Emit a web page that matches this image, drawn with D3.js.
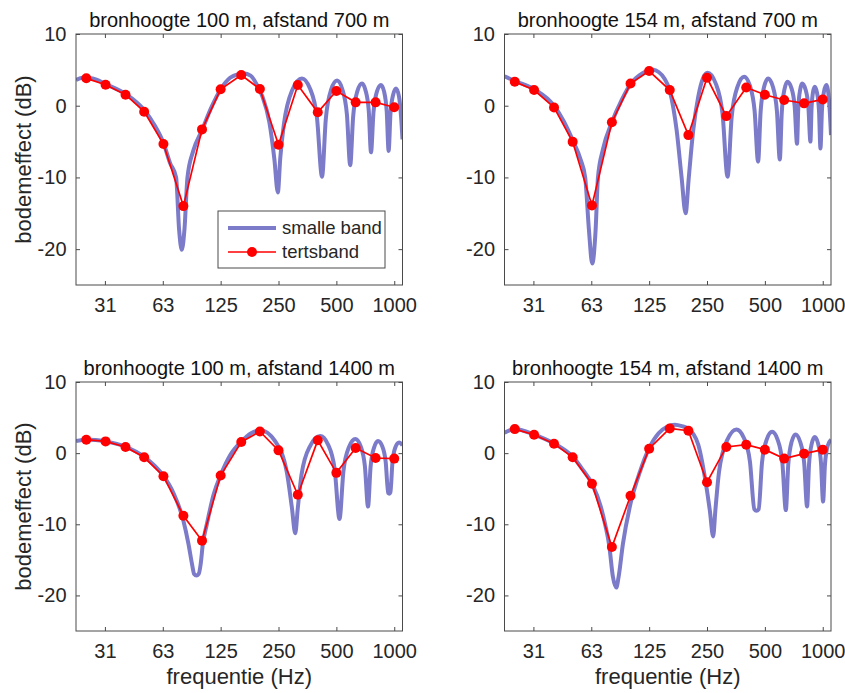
<!DOCTYPE html>
<html><head><meta charset="utf-8">
<script src="https://cdn.jsdelivr.net/npm/d3@7"></script>
<style>
body{margin:0;background:#fff}
svg{display:block}
text{font-family:"Liberation Sans",Arial,Helvetica,sans-serif}
</style>
</head><body>
<svg id="chart" width="845" height="693"></svg>
<script>
// ---------------- DATA ----------------
const titles = [
  "bronhoogte 100 m, afstand 700 m",
  "bronhoogte 154 m, afstand 700 m",
  "bronhoogte 100 m, afstand 1400 m",
  "bronhoogte 154 m, afstand 1400 m"
];
const xDomain = [22.1, 1104];
const yDomain = [-25, 10];
const xTicks = [31.25, 62.5, 125, 250, 500, 1000];
const xTickLabels = ["31", "63", "125", "250", "500", "1000"];
const yTicks = [-20, -10, 0, 10];
const yTickLabels = ["-20", "-10", "0", "10"];
const legendLabels = ["smalle band", "tertsband"];
const yLabel = "bodemeffect (dB)";
const xLabel = "frequentie (Hz)";

// third-octave band centre frequencies (Hz)
const tertsFreq = [25, 31.5, 40, 50, 63, 80, 100, 125, 160, 200, 250, 315, 400, 500, 630, 800, 1000];

// tertsband values (dB)
const terts_h100_a700  = [3.82, 2.93, 1.54, -0.83, -5.34, -14.0, -3.3, 2.29, 4.28, 2.33, -5.44, 2.89, -0.92, 2.05, 0.47, 0.47, -0.22];
const terts_h154_a700  = [3.34, 2.18, -0.24, -5.04, -13.9, -2.3, 3.1, 4.83, 2.18, -4.1, 3.9, -1.45, 2.55, 1.53, 0.8, 0.33, 0.88];
const terts_h100_a1400 = [1.89, 1.65, 0.87, -0.58, -3.24, -8.8, -12.3, -3.15, 1.56, 3.05, 0.39, -5.85, 1.8, -2.77, 0.72, -0.68, -0.77];
const terts_h154_a1400 = [3.38, 2.59, 1.33, -0.58, -4.3, -13.2, -6.0, 0.63, 3.47, 3.15, -4.08, 0.87, 1.19, 0.49, -0.77, -0.07, 0.49];

// smalle band (narrow band) curves: [frequency Hz, dB]
const smal_h100_a700 = [[22.1,3.6],[24,3.9],[27,3.8],[31.5,3.0],[40,1.65],[50,-0.6],[56,-2.5],[63,-5.2],[68.2,-8.0],[73.3,-10],[76,-17.3],[78.5,-20.1],[81,-17.3],[84,-10],[90,-6.3],[100,-3.4],[112,-0.2],[125,2.3],[140,3.9],[155,4.4],[165,4.5],[179,4.2],[194,2.8],[206,1.3],[224,-2.3],[238,-7.5],[248,-12.1],[255.3,-7.3],[266.6,-2.6],[294.9,2.2],[331,3.8],[364.4,2.4],[396.4,-1.7],[421,-9.9],[440.4,-1.9],[469,2.2],[504,3.5],[536.9,2.3],[567.2,-1.2],[590,-8.3],[611.3,-1.5],[642.5,2.0],[680,3.1],[709.8,2.1],[737,-0.7],[757,-6.5],[780,-0.9],[813.2,2.0],[853,2.9],[884.9,2.0],[913.8,-0.8],[935,-6.3],[956,-1.1],[986.3,1.5],[1022,2.4],[1060,1.2],[1085,-1.5],[1104,-4.7]];
const smal_h154_a700 = [[22.1,4.1],[25,3.45],[31.5,2.3],[40,0],[45,-2.2],[50,-4.8],[55,-7.5],[58.1,-10],[60.8,-17.4],[63.2,-22],[65.8,-17.4],[67.7,-10],[72,-6],[80,-2.3],[90,0.8],[100,3.0],[115,4.5],[131,5.0],[140,4.7],[150,3.8],[160,2.1],[173.7,-3.4],[184.4,-10],[193.4,-15],[201,-10],[212,-3.4],[225,1.25],[238,3.8],[251.7,4.6],[277,3.15],[301.2,-1.2],[319.8,-9.9],[336.1,-1.5],[360.3,2.65],[390,4.04],[417,2.86],[442.1,-0.7],[461,-7.8],[475.1,-0.84],[495.5,2.64],[520,3.8],[549.9,2.67],[577.5,-0.72],[598,-7.5],[612,-1.0],[632.2,2.27],[656,3.35],[686.5,2.5],[714.4,-0.1],[735,-5.3],[746.2,-0.26],[763.9,2.3],[781,3.1],[812.9,2.3],[841.8,-0.14],[863,-5.0],[874.3,-0.41],[890,1.9],[909,2.65],[934,1.8],[956.6,-0.79],[973,-5.96],[990.5,-0.64],[1015.6,2.0],[1045,2.9],[1080,0.5],[1104,-4.1]];
const smal_h100_a1400 = [[22.1,1.7],[25,1.9],[28,1.85],[31.5,1.65],[40,0.9],[50,-0.5],[63,-3.2],[71,-5.6],[80,-9.5],[85,-12.75],[89,-15.8],[91,-17],[93.5,-17.2],[96,-17.0],[98.5,-15.5],[101,-12.75],[105.9,-10],[115,-5.8],[125,-3.1],[140,-0.3],[160,1.6],[180,2.8],[203,3.2],[239,1.75],[275.8,-2.6],[293.3,-7.6],[305.5,-11.26],[314.8,-7.8],[329.2,-3.06],[365.5,1.03],[412,2.4],[451.8,1.24],[489.9,-2.26],[519,-9.25],[544.2,-2.5],[581.6,0.88],[627.5,2.0],[666.9,1.05],[703.4,-1.8],[730.6,-7.5],[752.9,-1.98],[785.2,0.78],[823.7,1.7],[865,1.0],[902.5,-1.22],[930,-5.6],[943,-5.7],[955,-5.5],[978.9,-1.3],[1013,0.8],[1060,1.5],[1104,1.1]];
const smal_h154_a1400 = [[22.1,2.87],[25,3.4],[31.5,2.6],[40,1.35],[50,-0.5],[56,-2.2],[63,-4.3],[70,-7.5],[73.9,-10.1],[77.5,-13],[81,-17.4],[84.3,-18.9],[86.7,-17.4],[91.3,-12.75],[100,-7.1],[112,-2.6],[125,0.7],[140,2.8],[155,3.7],[170,4.0],[185,3.8],[200,3.4],[225,1.2],[243.7,-3.4],[258.7,-8.1],[269,-11.7],[276.6,-7.9],[288.5,-2.7],[318.2,1.83],[356,3.33],[387.8,2.2],[418,-1.16],[441,-7.9],[452,-8.1],[464,-7.9],[483,-1.36],[511,1.9],[545,3.0],[582.2,1.9],[616.7,-1.4],[642.7,-8.0],[661.6,-1.62],[689,1.6],[721.8,2.63],[762.9,1.6],[800.8,-1.42],[829,-7.5],[848.3,-1.64],[876,1.3],[909,2.26],[945.8,1.35],[979.4,-1.36],[1004,-6.8],[1027,-1.6],[1060,1.0],[1104,1.9]];

// ---------------- DRAWING ----------------
const svg = d3.select("#chart");
const BLUE = "#7b7bc9", RED = "#ff0000", AXC = "#4a4a4a", TXT = "#262626";
const W = 326.5;
const panels = [
  {title: titles[0], terts: terts_h100_a700,  smal: smal_h100_a700,  x0: 76,    y0: 34,  h: 251, yl: true,  xl: false, legend: true},
  {title: titles[1], terts: terts_h154_a700,  smal: smal_h154_a700,  x0: 504.5, y0: 34,  h: 251, yl: false, xl: false, legend: false},
  {title: titles[2], terts: terts_h100_a1400, smal: smal_h100_a1400, x0: 76,    y0: 382, h: 249, yl: true,  xl: true,  legend: false},
  {title: titles[3], terts: terts_h154_a1400, smal: smal_h154_a1400, x0: 504.5, y0: 382, h: 249, yl: false, xl: true,  legend: false}
];

panels.forEach((p, i) => {
  const x = d3.scaleLog().domain(xDomain).range([p.x0, p.x0 + W]);
  const y = d3.scaleLinear().domain(yDomain).range([p.y0 + p.h, p.y0]);
  const g = svg.append("g");

  g.append("clipPath").attr("id", "clip" + i)
    .append("rect").attr("x", p.x0).attr("y", p.y0).attr("width", W).attr("height", p.h);

  // axes (ticks inside, box on)
  const styleAxis = sel => {
    sel.select(".domain").remove();
    sel.selectAll(".tick line").attr("stroke", AXC).attr("stroke-width", 1);
    sel.selectAll(".tick text").attr("fill", TXT).style("font-size", "20px");
  };
  g.append("g").attr("transform", `translate(0,${p.y0 + p.h})`)
    .call(d3.axisBottom(x).tickValues(xTicks).tickFormat((d, k) => xTickLabels[k]).tickSizeInner(-4).tickSizeOuter(0).tickPadding(13))
    .call(styleAxis);
  g.append("g").attr("transform", `translate(0,${p.y0})`)
    .call(d3.axisTop(x).tickValues(xTicks).tickFormat("").tickSizeInner(-4).tickSizeOuter(0))
    .call(styleAxis);
  g.append("g").attr("transform", `translate(${p.x0},0)`)
    .call(d3.axisLeft(y).tickValues(yTicks).tickFormat((d, k) => yTickLabels[k]).tickSizeInner(-4).tickSizeOuter(0).tickPadding(9.5))
    .call(styleAxis);
  g.append("g").attr("transform", `translate(${p.x0 + W},0)`)
    .call(d3.axisRight(y).tickValues(yTicks).tickFormat("").tickSizeInner(-4).tickSizeOuter(0))
    .call(styleAxis);

  // data
  const plot = g.append("g").attr("clip-path", `url(#clip${i})`);
  plot.append("path").datum(p.smal)
    .attr("fill", "none").attr("stroke", BLUE).attr("stroke-width", 4)
    .attr("stroke-linejoin", "round")
    .attr("d", d3.line().x(d => x(d[0])).y(d => y(d[1])).curve(d3.curveMonotoneX));
  const tp = tertsFreq.map((f, k) => [f, p.terts[k]]);
  plot.append("path").datum(tp)
    .attr("fill", "none").attr("stroke", RED).attr("stroke-width", 1.7)
    .attr("d", d3.line().x(d => x(d[0])).y(d => y(d[1])));
  plot.selectAll("circle").data(tp).enter().append("circle")
    .attr("cx", d => x(d[0])).attr("cy", d => y(d[1])).attr("r", 5).attr("fill", RED);

  // frame
  g.append("rect").attr("x", p.x0).attr("y", p.y0).attr("width", W).attr("height", p.h)
    .attr("fill", "none").attr("stroke", AXC).attr("stroke-width", 1);

  // title
  g.append("text").attr("x", p.x0 + W / 2).attr("y", p.y0 - 7.5)
    .attr("text-anchor", "middle").attr("fill", "#111").style("font-size", "20px").text(p.title);

  if (p.yl) {
    g.append("text").attr("transform", `translate(${p.x0 - 53},${p.y0 + p.h / 2}) rotate(-90)`)
      .attr("text-anchor", "middle").attr("dy", "0.35em").attr("fill", TXT).style("font-size", "22px").text(yLabel);
  }
  if (p.xl) {
    g.append("text").attr("x", p.x0 + W / 2).attr("y", p.y0 + p.h + 53)
      .attr("text-anchor", "middle").attr("fill", TXT).style("font-size", "22px").text(xLabel);
  }

  if (p.legend) {
    const lx = p.x0 + 142, ly = p.y0 + 177;
    const L = g.append("g");
    L.append("rect").attr("x", lx).attr("y", ly).attr("width", 167).attr("height", 57)
      .attr("fill", "#fff").attr("stroke", AXC).attr("stroke-width", 1);
    L.append("line").attr("x1", lx + 10).attr("x2", lx + 58).attr("y1", ly + 17).attr("y2", ly + 17)
      .attr("stroke", BLUE).attr("stroke-width", 4);
    L.append("line").attr("x1", lx + 10).attr("x2", lx + 58).attr("y1", ly + 41).attr("y2", ly + 41)
      .attr("stroke", RED).attr("stroke-width", 1.7);
    L.append("circle").attr("cx", lx + 34).attr("cy", ly + 41).attr("r", 5).attr("fill", RED);
    L.append("text").attr("x", lx + 64).attr("y", ly + 17).attr("dy", "0.35em")
      .attr("fill", TXT).style("font-size", "18.5px").text(legendLabels[0]);
    L.append("text").attr("x", lx + 64).attr("y", ly + 41).attr("dy", "0.35em")
      .attr("fill", TXT).style("font-size", "18.5px").text(legendLabels[1]);
  }
});
</script>
</body></html>
